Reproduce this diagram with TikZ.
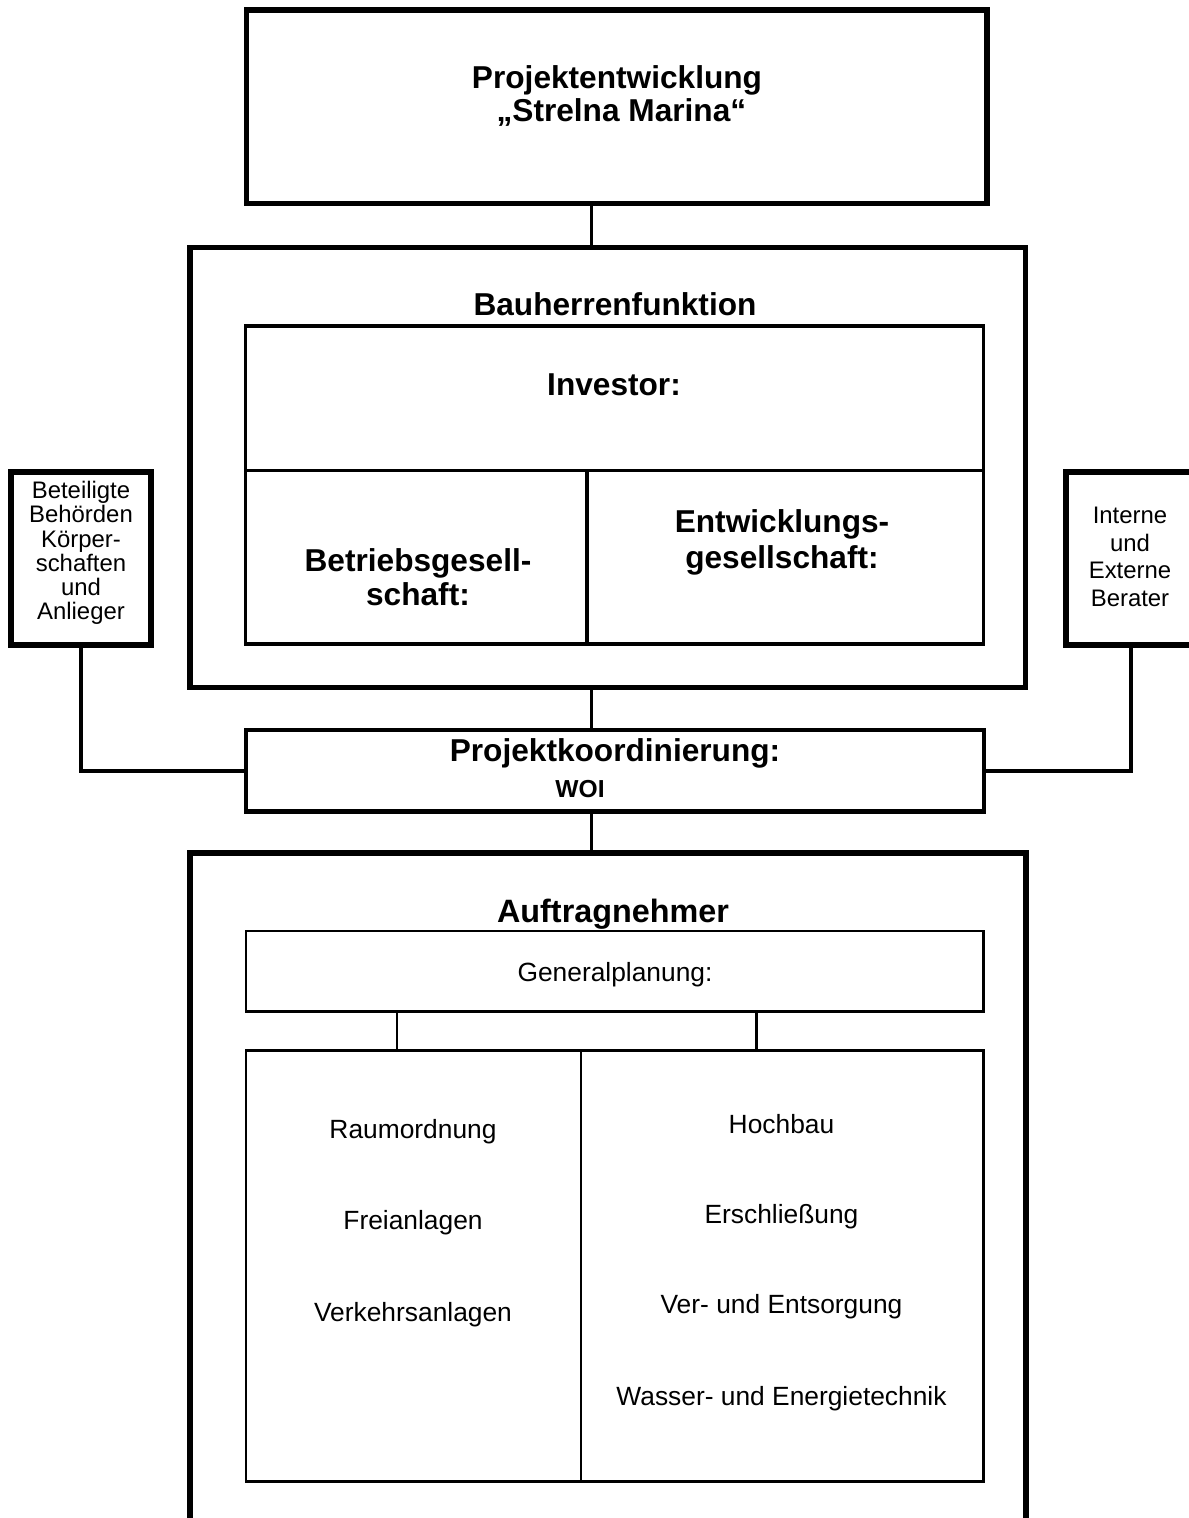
\documentclass[tikz,border=0pt]{standalone}
\usepackage{fontspec}
\setmainfont{Liberation Sans}
\usetikzlibrary{positioning}

\tikzset{
  frame/.style={draw, inner sep=0pt, line width=#1},
  conn/.style={line width=1.1pt},
  head/.style={font=\bfseries\fontsize{9}{9.4}\selectfont, align=center, inner sep=0pt},
  sidetxt/.style={font=\fontsize{6.8}{6.9}\selectfont, align=center, inner sep=0pt},
  item/.style={font=\fontsize{7.5}{9}\selectfont, inner sep=0pt}
}

\begin{document}
\begin{tikzpicture}
\useasboundingbox (0,0) rectangle (11.88,-15.18);
% boxes
\node [frame=1.7pt, minimum width=7.405cm, minimum height=1.935cm] (proj) at (6.1675,-1.0675) {};
\node [frame=1.6pt, minimum width=8.355cm, minimum height=4.4cm] (bau) at (6.0775,-4.675) {};
\node [frame=1pt, minimum width=7.38cm, minimum height=1.445cm] (inv) at (6.145,-3.9825) {};
\node [frame=1pt, minimum width=3.415cm, minimum height=1.735cm] (betr) at (4.1625,-5.5725) {};
\node [frame=1pt, minimum width=3.965cm, minimum height=1.735cm] (entw) at (7.8525,-5.5725) {};
\node [frame=1.7pt, minimum width=1.4cm, minimum height=1.73cm] (beh) at (0.81,-5.585) {};
\node [frame=1.7pt, minimum width=1.3cm, minimum height=1.73cm] (ber) at (11.31,-5.585) {};
\node [frame=1.4pt, minimum width=7.38cm, minimum height=0.815cm] (koord) at (6.15,-7.7075) {};
\node [frame=1.6pt, minimum width=8.36cm, minimum height=6.87cm] (auf) at (6.08,-11.965) {};
\node [frame=0.6pt, minimum width=7.375cm, minimum height=0.805cm] (gen) at (6.1475,-9.7125) {};
\node [frame=0.6pt, minimum width=3.35cm, minimum height=4.31cm] (lowL) at (4.135,-12.66) {};
\node [frame=0.6pt, minimum width=4.025cm, minimum height=4.31cm] (lowR) at (7.8225,-12.66) {};
\coordinate (spine) at (5.915,0);
\coordinate (gl) at (3.97,0);
\coordinate (gr) at (7.56,0);
% connectors
\draw [conn] (proj.south -| spine) -- (bau.north -| spine);
\draw [conn] (bau.south -| spine) -- (koord.north -| spine);
\draw [conn] (koord.south -| spine) -- (auf.north -| spine);
\draw [conn] (beh.south) |- (koord.west);
\draw [conn] (ber.south) |- (koord.east);
\draw [line width=0.85pt] (gen.south -| gl) -- (lowL.north -| gl);
\draw [line width=0.85pt] (gen.south -| gr) -- (lowR.north -| gr);
% texts
\node [head] (projtxt) at (6.17,-0.96) {Projektentwicklung\\~„Strelna Marina“};
\node [head] (bautxt) at (6.15,-3.04) {Bauherrenfunktion};
\node [head] (invtxt) at (6.14,-3.85) {Investor:};
\node [head, font=\bfseries\fontsize{9}{9.7}\selectfont] (betrtxt) at (4.18,-5.77) {Betriebsgesell-\\schaft:};
\node [head, font=\bfseries\fontsize{9}{10.2}\selectfont] (entwtxt) at (7.82,-5.42) {Entwicklungs-\\gesellschaft:};
\node [sidetxt] (behtxt) at (0.81,-5.53) {Beteiligte\\Behörden\\Körper-\\schaften\\und\\Anlieger};
\node [sidetxt, font=\fontsize{6.8}{7.9}\selectfont] (bertxt) at (11.30,-5.57) {Interne\\und\\Externe\\Berater};
\node [head] (koordtxt) at (6.15,-7.53) {Projektkoordinierung:};
\node [head, font=\bfseries\fontsize{7}{8}\selectfont] (woitxt) at (5.80,-7.89) {WOI};
\node [head, font=\bfseries\fontsize{9.2}{9.6}\selectfont] (auftxt) at (6.13,-9.14) {Auftragnehmer};
\node [item] (gentxt) at (6.15,-9.75) {Generalplanung:};
\node [item] (raum) at (4.13,-11.32) {Raumordnung};
\node [item] (frei) at (4.13,-12.23) {Freianlagen};
\node [item] (verk) at (4.13,-13.15) {Verkehrsanlagen};
\node [item] (hoch) at (7.815,-11.24) {Hochbau};
\node [item] (ersch) at (7.815,-12.17) {Erschließung};
\node [item] (vers) at (7.815,-13.07) {Ver- und Entsorgung};
\node [item] (wass) at (7.815,-13.99) {Wasser- und Energietechnik};
\end{tikzpicture}
\end{document}
